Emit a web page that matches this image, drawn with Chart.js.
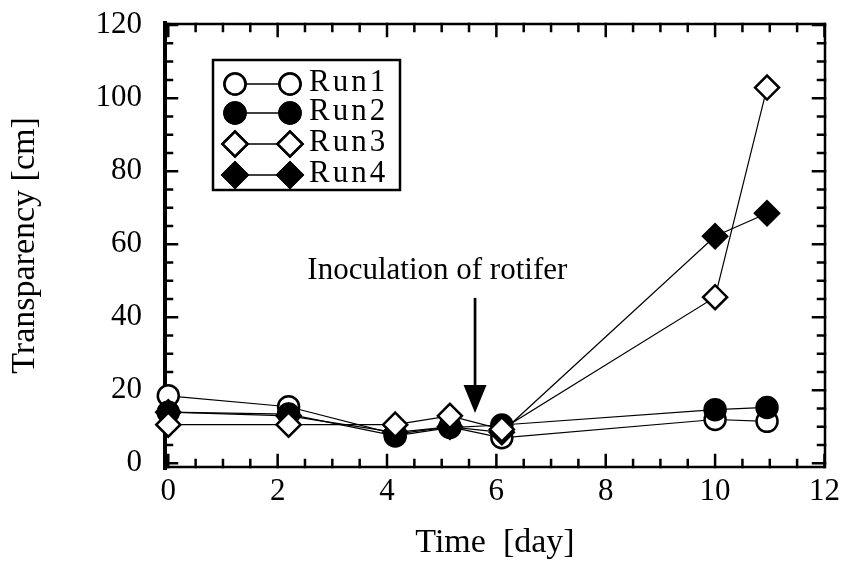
<!DOCTYPE html>
<html>
<head>
<meta charset="utf-8">
<script src="https://cdn.jsdelivr.net/npm/chart.js@4.4.0/dist/chart.umd.min.js"></script>
<style>
  html, body { margin: 0; padding: 0; background: #fff; }
</style>
</head>
<body>
<canvas id="chart" width="845" height="566"></canvas>
<script>
// values
const days = [0, 2.2, 4.15, 5.15, 6.1, 10, 10.95];
const run1 = [18.5, 15.5, 8, 10, 7, 12, 11.5];
const run2 = [14, 13.5, 7.5, 9.8, 10.5, 14.7, 15.3];
const run3 = [10.6, 10.6, 10.6, 13, 9.3, 45.5, 102.9];
const run4 = [14, 13, 8.5, 10, 8.5, 62.2, 68.5];
const runNames = ['Run1', 'Run2', 'Run3', 'Run4'];

const xTicks = [0, 2, 4, 6, 8, 10, 12];
const yTicks = [0, 20, 40, 60, 80, 100, 120];
const xMinorStep = 0.5;
const yMinorStep = 5;

const noteText = 'Inoculation of rotifer';
const noteX = 4.92, noteY = 50.6;
const arrowX = 5.61, arrowTop = 45.3, arrowTip = 13.8;

const serif = '"Liberation Serif", "DejaVu Serif", serif';

function makeSet(label, values, style, filled, order) {
    return {
        label: label,
        order: order,
        data: days.map((d, i) => ({ x: d, y: values[i] })),
        borderColor: '#000',
        borderWidth: 1.2,
        pointStyle: style,
        pointRadius: style === 'circle' ? 10.5 : 12,
        pointBackgroundColor: filled ? '#000' : '#fff',
        pointBorderColor: '#000',
        pointBorderWidth: 2.5,
        tension: 0,
        fill: false,
        clip: false
    };
}

// frame with inward ticks on all four sides
const frameTicks = {
    id: 'frameTicks',
    beforeDatasetsDraw(chart) {
        const { ctx, chartArea: a, scales: { x, y } } = chart;
        ctx.save();
        ctx.strokeStyle = '#000';
        ctx.lineCap = 'square';

        ctx.lineWidth = 2.5;
        ctx.beginPath();
        for (let v = xTicks[0]; v <= xTicks[xTicks.length - 1] + 1e-9; v += xMinorStep) {
            const px = x.getPixelForValue(v);
            const len = xTicks.includes(v) ? 12 : 7;
            ctx.moveTo(px, a.bottom); ctx.lineTo(px, a.bottom - len);
            ctx.moveTo(px, a.top); ctx.lineTo(px, a.top + len);
        }
        for (let v = yTicks[0]; v <= yTicks[yTicks.length - 1] + 1e-9; v += yMinorStep) {
            const py = y.getPixelForValue(v);
            const len = yTicks.includes(v) ? 12 : 7;
            ctx.moveTo(a.left, py); ctx.lineTo(a.left + len, py);
            ctx.moveTo(a.right, py); ctx.lineTo(a.right - len, py);
        }
        ctx.stroke();

        ctx.beginPath();
        ctx.moveTo(a.left, a.top); ctx.lineTo(a.right, a.top);
        ctx.lineTo(a.right, a.bottom); ctx.lineTo(a.left, a.bottom);
        ctx.stroke();

        ctx.lineWidth = 4;
        ctx.beginPath();
        ctx.moveTo(a.left, a.top - 1); ctx.lineTo(a.left, a.bottom + 1);
        ctx.stroke();
        ctx.restore();
    }
};

// arrow and its note
const noteArrow = {
    id: 'noteArrow',
    afterDatasetsDraw(chart) {
        const { ctx, scales: { x, y } } = chart;
        const ax = x.getPixelForValue(arrowX);
        const top = y.getPixelForValue(arrowTop);
        const tip = y.getPixelForValue(arrowTip);
        ctx.save();
        ctx.strokeStyle = '#000';
        ctx.fillStyle = '#000';
        ctx.lineWidth = 2.7;
        ctx.beginPath();
        ctx.moveTo(ax, top); ctx.lineTo(ax, tip - 20);
        ctx.stroke();
        ctx.beginPath();
        ctx.moveTo(ax - 11.5, tip - 28);
        ctx.lineTo(ax + 11.5, tip - 28);
        ctx.lineTo(ax, tip);
        ctx.closePath();
        ctx.fill();

        ctx.font = '31px ' + serif;
        ctx.textAlign = 'center';
        ctx.textBaseline = 'alphabetic';
        ctx.fillText(noteText, x.getPixelForValue(noteX), y.getPixelForValue(noteY));
        ctx.restore();
    }
};

// boxed legend with marker-line-marker samples
const boxLegend = {
    id: 'boxLegend',
    afterDraw(chart) {
        const { ctx } = chart;
        const sets = chart.data.datasets;
        const box = { left: 213, top: 60, right: 400, bottom: 190 };
        const rowY = [84, 113, 144, 175];
        const m1 = 235, m2 = 290, textX = 309;
        ctx.save();
        ctx.fillStyle = '#fff';
        ctx.fillRect(box.left, box.top, box.right - box.left, box.bottom - box.top);
        ctx.strokeStyle = '#000';
        ctx.lineWidth = 2.5;
        ctx.strokeRect(box.left, box.top, box.right - box.left, box.bottom - box.top);

        runNames.forEach((name, i) => {
            const ds = sets.find(s => s.label === name);
            const cy = rowY[i];
            ctx.lineWidth = 1.4;
            ctx.strokeStyle = '#000';
            ctx.beginPath();
            ctx.moveTo(m1, cy); ctx.lineTo(m2, cy);
            ctx.stroke();
            const r = ds.pointStyle === 'circle' ? 10.5 : 12.5;
            [m1, m2].forEach(mx => {
                ctx.fillStyle = ds.pointBackgroundColor;
                ctx.strokeStyle = '#000';
                ctx.lineWidth = 2.5;
                Chart.helpers.drawPoint(ctx, { pointStyle: ds.pointStyle, radius: r, borderWidth: 2.5, rotation: 0 }, mx, cy);
                ctx.fill();
                ctx.stroke();
            });
            ctx.fillStyle = '#000';
            ctx.font = '31px ' + serif;
            ctx.letterSpacing = '3px';
            ctx.textAlign = 'left';
            ctx.textBaseline = 'alphabetic';
            ctx.fillText(name, textX, cy + 7);
            ctx.letterSpacing = '0px';
        });
        ctx.restore();
    }
};

const ctx = document.getElementById('chart').getContext('2d');
const chart = new Chart(ctx, {
    type: 'line',
    data: {
        datasets: [
            makeSet(runNames[0], run1, 'circle', false, 4),
            makeSet(runNames[1], run2, 'circle', true, 3),
            makeSet(runNames[2], run3, 'rectRot', false, 1),
            makeSet(runNames[3], run4, 'rectRot', true, 2)
        ]
    },
    options: {
        responsive: false,
        animation: false,
        devicePixelRatio: 1,
        layout: { padding: { top: 24, right: 20, left: 0, bottom: 0 } },
        plugins: {
            legend: { display: false },
            tooltip: { enabled: false }
        },
        scales: {
            x: {
                type: 'linear',
                min: -0.06,
                max: 12.01,
                grid: { display: false, drawTicks: false },
                border: { display: false },
                afterBuildTicks: s => { s.ticks = xTicks.map(v => ({ value: v })); },
                afterFit: s => { s.height = 99; s.paddingLeft = 0; s.paddingRight = 0; },
                ticks: {
                    autoSkip: false,
                    maxRotation: 0,
                    padding: 6,
                    color: '#000',
                    font: { family: serif, size: 31 }
                },
                title: {
                    display: true,
                    text: 'Time  [day]',
                    color: '#000',
                    font: { family: serif, size: 34 },
                    padding: 3
                }
            },
            y: {
                min: -1,
                max: 120.3,
                grid: { display: false, drawTicks: false },
                border: { display: false },
                afterBuildTicks: s => { s.ticks = yTicks.map(v => ({ value: v })); },
                afterFit: s => { s.width = 165; s.paddingTop = 0; s.paddingBottom = 0; },
                ticks: {
                    autoSkip: false,
                    padding: 23,
                    color: '#000',
                    font: { family: serif, size: 31 }
                },
                title: {
                    display: true,
                    text: 'Transparency [cm]',
                    color: '#000',
                    font: { family: serif, size: 34 },
                    padding: 5
                }
            }
        }
    },
    plugins: [frameTicks, noteArrow, boxLegend]
});
</script>
</body>
</html>
